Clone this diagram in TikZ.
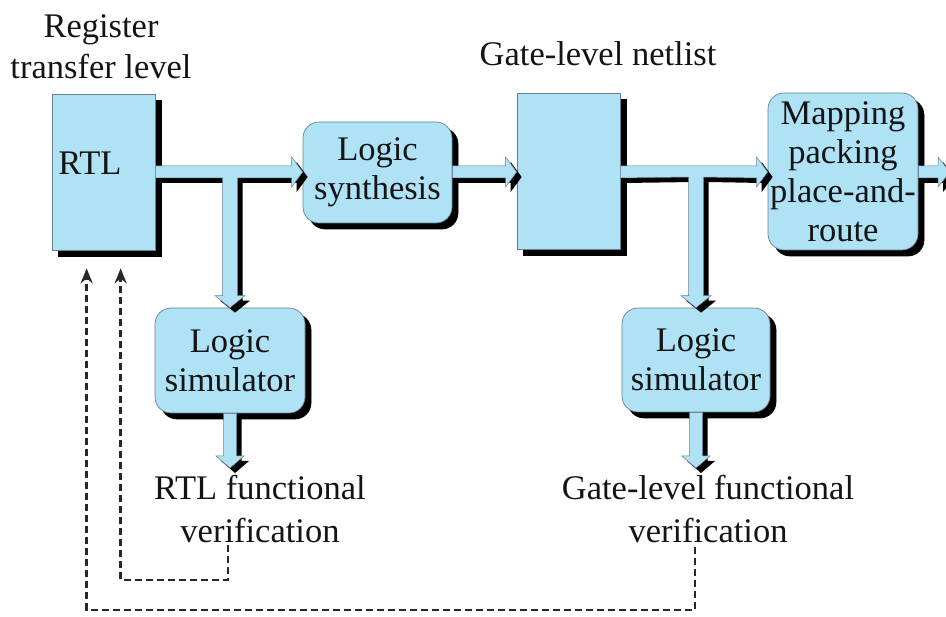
\documentclass[tikz,border=0pt]{standalone}
\usepackage{fontspec}
\setmainfont{Liberation Serif}
\usetikzlibrary{calc,shadows,arrows.meta}
\definecolor{boxblue}{RGB}{176,226,246}
\definecolor{boxedge}{RGB}{100,130,145}
\definecolor{txtc}{RGB}{20,20,20}
\definecolor{dashc}{RGB}{40,40,40}
\newcommand\fatarrow[1]{%
  \begin{scope}[transform canvas={xshift=5pt,yshift=-5pt}]
    \fill[black] #1;
  \end{scope}
  \filldraw[fill=boxblue,draw=boxedge,line width=0.5pt] #1;}
\begin{document}
\begin{tikzpicture}[x=1pt,y=-1pt,
  txt/.style={text=txtc,align=center,inner sep=0pt,font=\fontsize{34.5}{41}\selectfont},
  sqbox/.style={fill=boxblue,draw=boxedge,line width=0.7pt,inner sep=0pt,
    copy shadow={shadow xshift=6pt,shadow yshift=-6pt,fill=black,draw=black}},
  rbox/.style={sqbox,rounded corners=16pt,align=center,text=txtc,
    font=\fontsize{34.5}{39}\selectfont},
  fb/.style={dashc,line width=2.6pt,dash pattern=on 7pt off 4pt,
    -{Stealth[length=15pt,width=12pt]}}]
\useasboundingbox (0,0) rectangle (946,617);
% boxes
\node[sqbox,minimum width=103,minimum height=156] (rtl) at (103.5,172) {};
\node[txt] (rtltxt) at (90,163) {RTL};
\node[rbox,minimum width=149,minimum height=101] (ls) at (377.5,172.5) {Logic\\synthesis};
\node[sqbox,minimum width=103,minimum height=156] (gate) at (568.5,171) {};
\node[rbox,minimum width=150,minimum height=157] (map) at (843,171.5) {Mapping\\packing\\place-and-\\route};
\node[rbox,minimum width=150,minimum height=105] (ls1) at (230,360.5) {Logic\\simulator};
\node[rbox,minimum width=148,minimum height=104] (ls2) at (696,360) {Logic\\simulator};
% free texts
\node[txt] (rtlhead) at (101,47) {Register\\transfer level};
\node[txt] (gatehead) at (598,54) {Gate-level netlist};
\node[txt,anchor=north,font=\fontsize{34.5}{43}\selectfont] (rtlv) at (260,475) {RTL functional\\verification};
\node[txt,anchor=north,font=\fontsize{34.5}{43}\selectfont] (gatev) at (708,475) {Gate-level functional\\verification};
% helper coordinates
\coordinate (j1) at (ls1.north |- rtl.east);
\coordinate (j2) at (ls2.north |- gate.east);
\coordinate (t1) at ($(ls1.south |- rtlv.north)+(0,-7)$);
\coordinate (t2) at ($(ls2.south |- gatev.north)+(0,-7)$);
\coordinate (out) at (946,172);
% fat arrows
\fatarrow{(rtl.east |- 0,166) -- ($(ls.west |- 0,166)+(-11,0)$) -- ($(ls.west |- 0,157)+(-11,0)$)
  -- (ls.west |- 0,172) -- ($(ls.west |- 0,187)+(-11,0)$) -- ($(ls.west |- 0,178)+(-11,0)$)
  -- ($(j1)+(7.5,6)$) -- ($(ls1.north)+(7.5,-12)$) -- ($(ls1.north)+(15,-12)$) -- (ls1.north)
  -- ($(ls1.north)+(-15,-12)$) -- ($(ls1.north)+(-7.5,-12)$) -- ($(j1)+(-7.5,6)$)
  -- (rtl.east |- 0,178) -- cycle}
\fatarrow{(ls.east |- 0,166) -- ($(gate.west |- 0,166)+(-11,0)$) -- ($(gate.west |- 0,157)+(-11,0)$)
  -- (gate.west |- 0,172) -- ($(gate.west |- 0,187)+(-11,0)$) -- ($(gate.west |- 0,178)+(-11,0)$)
  -- (ls.east |- 0,178) -- cycle}
\fatarrow{(gate.east |- 0,166) -- ($(map.west |- 0,166)+(-11,0)$) -- ($(map.west |- 0,157)+(-11,0)$)
  -- (map.west |- 0,172) -- ($(map.west |- 0,187)+(-11,0)$) -- ($(map.west |- 0,178)+(-11,0)$)
  -- ($(j2)+(7.5,6)$) -- ($(ls2.north)+(7.5,-12)$) -- ($(ls2.north)+(15,-12)$) -- (ls2.north)
  -- ($(ls2.north)+(-15,-12)$) -- ($(ls2.north)+(-7.5,-12)$) -- ($(j2)+(-7.5,6)$)
  -- (gate.east |- 0,178) -- cycle}
\fatarrow{(map.east |- 0,166) -- ($(out)+(-8,-6)$) -- ($(out)+(-8,-15)$) -- ($(out)+(4,0)$)
  -- ($(out)+(-8,15)$) -- ($(out)+(-8,6)$) -- (map.east |- 0,178) -- cycle}
\fatarrow{($(ls1.south)+(-6.5,0)$) -- ($(t1)+(-6.5,-12)$) -- ($(t1)+(-14,-12)$) -- (t1)
  -- ($(t1)+(14,-12)$) -- ($(t1)+(6.5,-12)$) -- ($(ls1.south)+(6.5,0)$) -- cycle}
\fatarrow{($(ls2.south)+(-6.5,0)$) -- ($(t2)+(-6.5,-12)$) -- ($(t2)+(-14,-12)$) -- (t2)
  -- ($(t2)+(14,-12)$) -- ($(t2)+(6.5,-12)$) -- ($(ls2.south)+(6.5,0)$) -- cycle}
% feedback dashed lines
\coordinate (d1) at ($(ls1.south |- rtlv.south)+(-2,2)$);
\coordinate (d2) at ($(ls2.south |- gatev.south)+(-1,4)$);
\draw[fb] (d1) -- ++(0,35) -| ($(rtl.south west)+(69,18)$);
\draw[fb] (d2) -- ++(0,63) -| ($(rtl.south west)+(35,18)$);
\end{tikzpicture}
\end{document}
